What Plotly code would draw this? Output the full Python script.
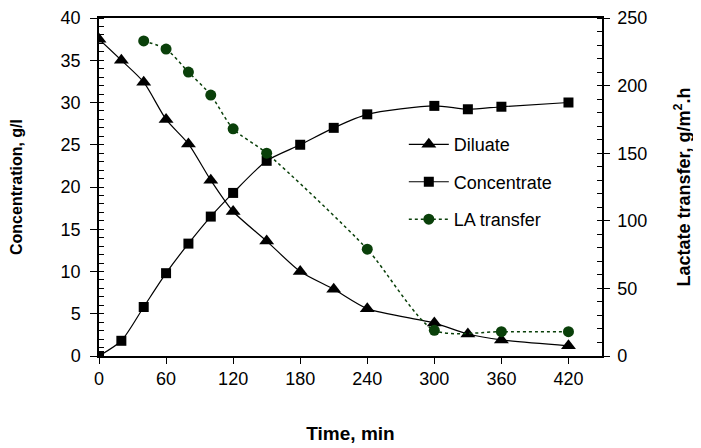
import plotly.graph_objects as go

time_dc = [0, 20, 40, 60, 80, 100, 120, 150, 180, 210, 240, 300, 330, 360, 420]
diluate = [37.5, 35.0, 32.4, 28.0, 25.1, 20.8, 17.1, 13.6, 10.0, 7.9, 5.6, 3.9, 2.6, 1.9, 1.2]
concentrate = [0.0, 1.8, 5.8, 9.8, 13.3, 16.5, 19.3, 23.1, 25.0, 27.0, 28.6, 29.6, 29.2, 29.5, 30.0]

time_la = [40, 60, 80, 100, 120, 150, 240, 300, 360, 420]
la_transfer = [233, 227, 210, 193, 168, 150, 79, 19, 18, 18]

FONT = "Liberation Sans, Arial, sans-serif"
GREEN = "#0a400a"

fig = go.Figure()
fig.add_trace(go.Scatter(
    x=time_dc, y=diluate, name="Diluate", mode="lines+markers",
    line=dict(color="black", width=1.2, shape="spline", smoothing=0.7),
    marker=dict(symbol="triangle-up", size=13, color="black"),
    legendgroup="a"))
fig.add_trace(go.Scatter(
    x=time_dc, y=concentrate, name="Concentrate", mode="lines+markers",
    line=dict(color="black", width=1.2, shape="spline", smoothing=0.7),
    marker=dict(symbol="square", size=10, color="black"),
    legendgroup="b"))
fig.add_trace(go.Scatter(
    x=time_la, y=la_transfer, name="LA transfer", mode="lines+markers",
    line=dict(color=GREEN, width=1.5, dash="dot", shape="spline", smoothing=0.7),
    marker=dict(symbol="circle", size=11, color=GREEN),
    yaxis="y2", legendgroup="c"))

fig.update_layout(
    width=693, height=440,
    margin=dict(l=91, r=99, t=10, b=92, autoexpand=False),
    paper_bgcolor="white", plot_bgcolor="white",
    font=dict(family=FONT, size=18, color="black"),
    showlegend=True,
    legend=dict(x=0.606, y=0.68, xanchor="left", yanchor="top",
                bgcolor="rgba(0,0,0,0)", font=dict(size=18),
                tracegroupgap=11, itemwidth=40),
    xaxis=dict(
        range=[0, 450], tickvals=[0, 60, 120, 180, 240, 300, 360, 420],
        ticks="outside", ticklen=6, tickwidth=1, tickcolor="black",
        showline=True, linecolor="black", linewidth=1.5, mirror=True,
        showgrid=False, zeroline=False, automargin=False,
        title=dict(text="<b>Time, min</b>", font=dict(size=19), standoff=38),
    ),
    yaxis=dict(
        range=[0, 40], dtick=5, tick0=0,
        ticks="outside", ticklen=7, tickwidth=1, tickcolor="black",
        ticklabelstandoff=6,
        minor=dict(dtick=1, ticks="inside", ticklen=5, tickcolor="black", showgrid=False),
        showline=True, linecolor="black", linewidth=1.5, mirror=True,
        showgrid=False, zeroline=False, automargin=False,
        title=dict(text="<b>Concentration, g/l</b>", font=dict(size=16), standoff=35),
    ),
    yaxis2=dict(
        range=[0, 250], dtick=50, tick0=0, overlaying="y", side="right",
        ticks="outside", ticklen=6, tickwidth=1, tickcolor="black",
        ticklabelstandoff=4,
        minor=dict(dtick=10, ticks="inside", ticklen=5, tickcolor="black", showgrid=False),
        showline=True, linecolor="black", linewidth=1.5,
        showgrid=False, zeroline=False, automargin=False,
        title=dict(text="<b>Lactate transfer, g/m<sup>2</sup>.h</b>", font=dict(size=18), standoff=31),
    ),
)

fig.write_html("out.html")
